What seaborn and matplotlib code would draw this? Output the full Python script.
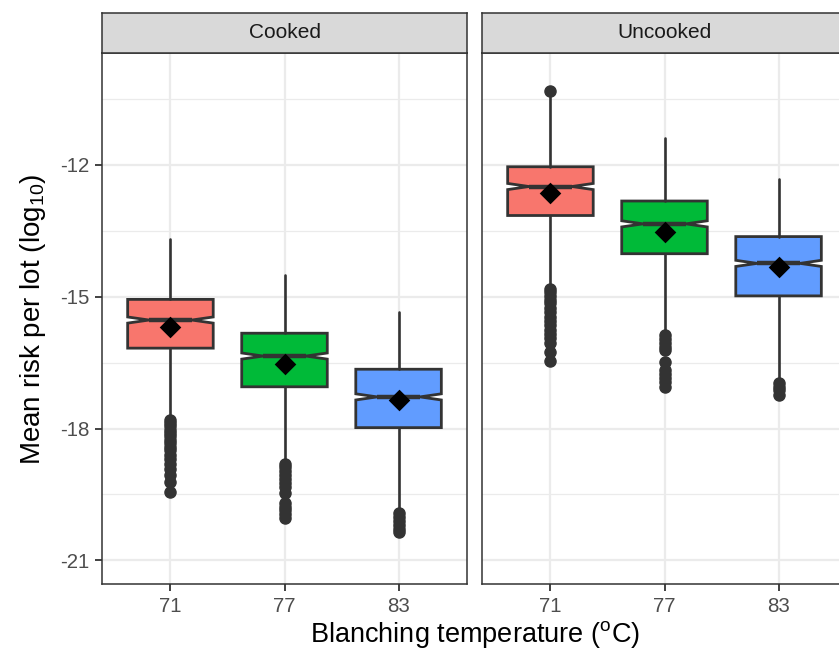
import matplotlib
matplotlib.use("Agg")
import matplotlib.pyplot as plt
import seaborn as sns
import numpy as np
import pandas as pd

# ---------------- data ----------------
panels = ["Cooked", "Uncooked"]
temps = ["71", "77", "83"]
colors = ["#F8766D", "#00BA38", "#619CFF"]

cooked_whishi = [-13.69, -14.51, -15.35]
cooked_q3 = [-15.06, -15.83, -16.65]
cooked_med = [-15.53, -16.35, -17.28]
cooked_mean = [-15.69, -16.53, -17.35]
cooked_q1 = [-16.17, -17.05, -17.98]
cooked_whislo = [-17.75, -18.75, -19.88]
cooked_out_71 = [-17.80, -17.88, -17.95, -18.03, -18.10, -18.18, -18.25, -18.33, -18.42,
                 -18.50, -18.60, -18.70, -18.80, -18.92, -19.05, -19.22, -19.45]
cooked_out_77 = [-18.80, -18.88, -18.96, -19.05, -19.15, -19.25, -19.33, -19.47, -19.70,
                 -19.78, -19.86, -19.94, -20.04]
cooked_out_83 = [-19.93, -20.02, -20.10, -20.20, -20.28, -20.35]

uncooked_whishi = [-10.45, -11.38, -12.33]
uncooked_q3 = [-12.04, -12.82, -13.63]
uncooked_med = [-12.49, -13.34, -14.24]
uncooked_mean = [-12.64, -13.52, -14.33]
uncooked_q1 = [-13.15, -14.02, -14.98]
uncooked_whislo = [-14.77, -15.83, -16.93]
uncooked_out_71 = [-10.31, -14.82, -14.90, -14.98, -15.07, -15.15, -15.25, -15.35, -15.45,
                   -15.55, -15.65, -15.75, -15.85, -15.95, -16.05, -16.26, -16.46]
uncooked_out_77 = [-15.88, -15.96, -16.05, -16.14, -16.22, -16.48, -16.67, -16.76, -16.85,
                   -16.95, -17.05]
uncooked_out_83 = [-16.97, -17.05, -17.13, -17.24]

notch_half = 0.07
y_ticks = [-12, -15, -18, -21]
y_minor = [-10.5, -13.5, -16.5, -19.5]

groups = {
    "Cooked": dict(whishi=cooked_whishi, q3=cooked_q3, med=cooked_med, mean=cooked_mean,
                   q1=cooked_q1, whislo=cooked_whislo,
                   out=[cooked_out_71, cooked_out_77, cooked_out_83]),
    "Uncooked": dict(whishi=uncooked_whishi, q3=uncooked_q3, med=uncooked_med, mean=uncooked_mean,
                     q1=uncooked_q1, whislo=uncooked_whislo,
                     out=[uncooked_out_71, uncooked_out_77, uncooked_out_83]),
}

# ---------------- style ----------------
sns.set_theme(style="whitegrid")
plt.rcParams["font.family"] = ["Liberation Sans", "DejaVu Sans"]
plt.rcParams["mathtext.fontset"] = "custom"
plt.rcParams["mathtext.rm"] = "Liberation Sans"
plt.rcParams["mathtext.it"] = "Liberation Sans:italic"

W, H = 839, 653
fig = plt.figure(figsize=(W / 100, H / 100), dpi=100)

def fx(px):
    return px / W

def fy(py):
    return 1 - py / H

edge = "#333333"
grid_c = "#EBEBEB"
ymin, ymax = -21.54, -9.45

panel_left = [102, 482]
panel_w = 365
top_px, bot_px = 53, 584
strip_top = 13

axes = []
for i, name in enumerate(panels):
    ax = fig.add_axes([fx(panel_left[i]), fy(bot_px), fx(panel_w), (bot_px - top_px) / H])
    axes.append(ax)
    g = groups[name]
    stats = []
    for k in range(3):
        stats.append(dict(med=g["med"][k], q1=g["q1"][k], q3=g["q3"][k],
                          whislo=g["whislo"][k], whishi=g["whishi"][k],
                          fliers=np.array(g["out"][k]),
                          cilo=g["med"][k] - notch_half, cihi=g["med"][k] + notch_half))
    ax.set_facecolor("white")
    # grid
    for v in y_minor:
        ax.axhline(v, color=grid_c, lw=0.9, zorder=0)
    for v in y_ticks:
        ax.axhline(v, color=grid_c, lw=1.6, zorder=0)
    for k in range(3):
        ax.axvline(k, color=grid_c, lw=1.6, zorder=0)
    ax.grid(False)

    bp = ax.bxp(stats, positions=[0, 1, 2], widths=0.75, shownotches=True,
                showcaps=False, patch_artist=True, manage_ticks=False,
                boxprops=dict(edgecolor=edge, linewidth=2.0),
                whiskerprops=dict(color=edge, linewidth=1.9),
                medianprops=dict(color=edge, linewidth=3.2, solid_capstyle="butt"),
                flierprops=dict(marker="o", markerfacecolor=edge, markeredgecolor=edge,
                                markersize=8, linestyle="none"))
    for patch, c in zip(bp["boxes"], colors):
        patch.set_facecolor(c)
        patch.set_zorder(2)
    for ln in bp["medians"]:
        ln.set_zorder(3)

    df = pd.DataFrame({"temp": temps, "mean": g["mean"]})
    sns.stripplot(data=df, x="temp", y="mean", order=temps, jitter=False, marker="D",
                  color="black", size=11, ax=ax, zorder=5, linewidth=0)

    ax.set_xlim(-0.6, 2.6)
    ax.set_ylim(ymin, ymax)
    ax.set_xticks([0, 1, 2])
    ax.set_xticklabels(temps)
    ax.set_yticks(y_ticks)
    ax.set_yticklabels([str(v) for v in y_ticks])
    ax.tick_params(axis="both", which="major", length=5, width=1.3, color=edge,
                   labelsize=14.7, labelcolor="#4D4D4D", pad=4, direction="out",
                   bottom=True, left=(i == 0))
    if i > 0:
        ax.tick_params(axis="y", labelleft=False, left=False)
    ax.set_xlabel("")
    ax.set_ylabel("")
    for s in ax.spines.values():
        s.set_color(edge)
        s.set_linewidth(1.1)
        s.set_visible(True)

    # strip
    sax = fig.add_axes([fx(panel_left[i]), fy(top_px), fx(panel_w), (top_px - strip_top) / H])
    sax.set_facecolor("#D9D9D9")
    sax.set_xticks([])
    sax.set_yticks([])
    sax.grid(False)
    for s in sax.spines.values():
        s.set_color(edge)
        s.set_linewidth(1.1)
    sax.text(0.5, 0.5, name, ha="center", va="center", fontsize=15, color="#1A1A1A",
             transform=sax.transAxes)

fig.text(fx(475), fy(635), r"Blanching temperature ($^{\mathrm{o}}$C)", ha="center",
         va="center", fontsize=19.5, color="black")
fig.text(fx(33), fy(319), r"Mean risk per lot (log$_{10}$)", ha="center", va="center",
         rotation=90, fontsize=20, color="black")

fig.savefig("out.png", dpi=100)
